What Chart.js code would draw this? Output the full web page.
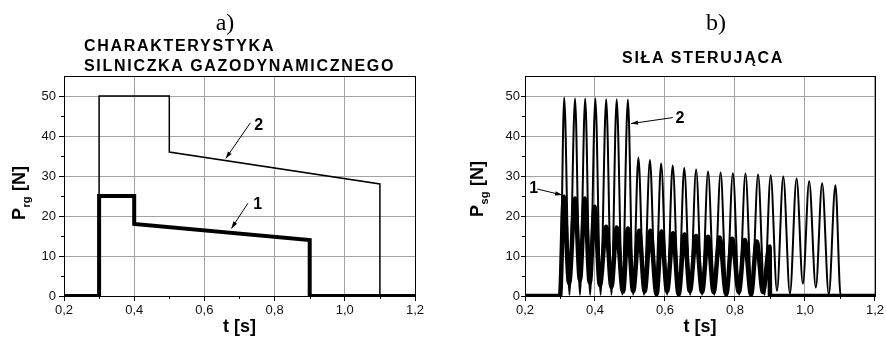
<!DOCTYPE html>
<html>
<head>
<meta charset="utf-8">
<script src="https://cdn.jsdelivr.net/npm/chart.js@4.4.1/dist/chart.umd.min.js"></script>
<style>
    html, body { margin: 0; padding: 0; background: #fff; }
    body { width: 886px; height: 343px; position: relative; overflow: hidden; }
    .panel { position: absolute; top: 0; width: 443px; height: 343px; }
    .tag { position: absolute; width: 200px; text-align: center; font-family: 'Liberation Serif', 'Times New Roman', serif; font-size: 24px; line-height: 24px; color: #000; }
    .head { position: absolute; font-family: 'Liberation Sans', Arial, sans-serif; font-weight: bold; font-size: 16px; line-height: 20px; letter-spacing: 1.7px; color: #000; white-space: nowrap; }
</style>
</head>
<body>
<div class="panel" style="left:0"><canvas id="chartA" width="443" height="343"></canvas></div>
<div class="panel" style="left:443px"><canvas id="chartB" width="443" height="343"></canvas></div>
<div class="tag" style="left:125px;top:10px">a)</div>
<div class="tag" style="left:616px;top:10px">b)</div>
<div class="head" style="left:84px;top:36px">CHARAKTERYSTYKA<br>SILNICZKA GAZODYNAMICZNEGO</div>
<div class="head" style="left:553px;top:48px;width:300px;text-align:center">SIŁA STERUJĄCA</div>

<script>
// axis ranges / ticks
const timeRange = [0.2, 1.2];
const forceRange = [0, 55];
const minorTimeTicks = [0.3, 0.5, 0.7, 0.9, 1.1];
const minorForceTicks = [5, 15, 25, 35, 45];

// a) engine characteristic, curve 1 (thick) and curve 2 (thin)
const timeA1 = [0.2, 0.3, 0.3, 0.4, 0.4, 0.9, 0.9, 1.2];
const forceA1 = [0, 0, 25, 25, 18, 14, 0, 0];
const timeA2 = [0.2, 0.3, 0.3, 0.5, 0.5, 1.1, 1.1, 1.2];
const forceA2 = [0, 0, 50, 50, 36, 28, 0, 0];

// b) control force, switching starts at 0.3 s
const startB = 0.3;
const stopB1 = 0.9;
const stopB2 = 1.102;

// curve 1 (thick) peaks and troughs
const peakT1 = [0.311, 0.343, 0.371, 0.399, 0.432, 0.462, 0.494, 0.526, 0.558, 0.590, 0.623, 0.656, 0.689, 0.723, 0.756, 0.792, 0.828, 0.862, 0.899];
const peakF1 = [24.8, 24.4, 24.4, 22.3, 17.3, 17.1, 16.9, 16.3, 16.3, 16.1, 15.7, 15.4, 15.0, 14.8, 14.6, 14.3, 14.0, 13.6, 12.4];
const troughT1 = [0.326, 0.357, 0.385, 0.414, 0.447, 0.480, 0.509, 0.542, 0.576, 0.606, 0.639, 0.671, 0.706, 0.739, 0.775, 0.811, 0.846, 0.880];
const troughF1 = [3.2, 4.0, 3.3, 2.7, 2.3, 1.1, 1.2, 1.2, 0.4, 1.2, 0.4, 1.2, 1.0, 1.0, 0.4, 1.0, 0.4, 1.0];

// curve 2 (thin) peaks and troughs
const peakT2 = [0.312, 0.343, 0.372, 0.401, 0.432, 0.462, 0.494, 0.524, 0.557, 0.589, 0.622, 0.655, 0.689, 0.723, 0.759, 0.794, 0.830, 0.866, 0.902, 0.938, 0.976, 1.012, 1.049, 1.087];
const peakF2 = [49.6, 49.4, 49.4, 49.4, 49.2, 49.2, 49.1, 34.6, 34.0, 33.1, 32.6, 32.0, 31.6, 31.1, 30.9, 30.7, 30.6, 30.4, 30.2, 29.9, 29.4, 28.7, 28.2, 27.7];
const troughT2 = [0.327, 0.357, 0.386, 0.416, 0.447, 0.478, 0.509, 0.540, 0.573, 0.606, 0.639, 0.672, 0.706, 0.741, 0.776, 0.812, 0.848, 0.884, 0.920, 0.957, 0.994, 1.031, 1.068];
const troughF2 = [0.3, 0.3, 0.3, 0.3, 0.3, 0.3, 0.3, 0.3, 0.3, 0.3, 0.3, 0.3, 0.3, 0.3, 0.3, 0.3, 0.3, 0.3, 1.3, 0.6, 3.1, 2.1, 0.4];

const family = "'Liberation Sans', Arial, sans-serif";

document.addEventListener('DOMContentLoaded', function () {
    const tLabel = v => Number(v).toFixed(1).replace('.', ',');

    const zip = (ts, fs) => ts.map((t, i) => ({ x: t, y: fs[i] }));

    // alternate peaks and troughs, framed by the zero level before and after
    const humps = (peakT, peakF, troughT, troughF, stop) => {
        const pts = [{ x: timeRange[0], y: 0 }, { x: startB, y: 0 }];
        peakT.forEach((t, i) => {
            pts.push({ x: t, y: peakF[i] });
            if (i < troughT.length) pts.push({ x: troughT[i], y: troughF[i] });
        });
        pts.push({ x: stop, y: 0 }, { x: timeRange[1], y: 0 });
        return pts;
    };

    // frame, minor ticks, y title with subscript, numbered arrows
    const decor = {
        id: 'decor',
        afterDraw(chart, args, opts) {
            const { ctx, chartArea: a, scales: { x, y } } = chart;
            ctx.save();
            ctx.strokeStyle = '#000';
            ctx.fillStyle = '#000';
            ctx.lineWidth = 1;
            ctx.strokeRect(Math.round(a.left) + 0.5, Math.round(a.top) + 0.5,
                Math.round(a.right - a.left), Math.round(a.bottom - a.top));

            ctx.beginPath();
            minorForceTicks.forEach(v => {
                const py = Math.round(y.getPixelForValue(v)) + 0.5;
                ctx.moveTo(a.left - 3, py);
                ctx.lineTo(a.left, py);
            });
            minorTimeTicks.forEach(v => {
                const px = Math.round(x.getPixelForValue(v)) + 0.5;
                ctx.moveTo(px, a.bottom);
                ctx.lineTo(px, a.bottom + 3);
            });
            ctx.stroke();

            // numbered arrows
            opts.notes.forEach(n => {
                const fx = x.getPixelForValue(n.from[0]), fy = y.getPixelForValue(n.from[1]);
                const tx = x.getPixelForValue(n.to[0]), ty = y.getPixelForValue(n.to[1]);
                ctx.beginPath();
                ctx.moveTo(fx, fy);
                ctx.lineTo(tx, ty);
                ctx.stroke();
                const ang = Math.atan2(ty - fy, tx - fx);
                const c = Math.cos(ang), s = Math.sin(ang);
                ctx.beginPath();
                ctx.moveTo(tx, ty);
                ctx.lineTo(tx - 7 * c + 2.2 * s, ty - 7 * s - 2.2 * c);
                ctx.lineTo(tx - 7 * c - 2.2 * s, ty - 7 * s + 2.2 * c);
                ctx.closePath();
                ctx.fill();
                ctx.font = 'bold 16px ' + family;
                ctx.textAlign = 'center';
                ctx.textBaseline = 'middle';
                ctx.fillText(n.text, x.getPixelForValue(n.at[0]), y.getPixelForValue(n.at[1]));
            });

            // rotated y title: P + subscript + [N]
            const yt = opts.yTitle;
            ctx.translate(yt.x, yt.y);
            ctx.rotate(-Math.PI / 2);
            ctx.textAlign = 'left';
            ctx.textBaseline = 'alphabetic';
            const big = 'bold 18px ' + family, small = 'bold 11px ' + family;
            ctx.font = big;
            const wP = ctx.measureText(yt.main).width;
            const wT = ctx.measureText(yt.tail).width;
            ctx.font = small;
            const wS = ctx.measureText(yt.sub).width;
            let cx = -(wP + wS + wT + 1) / 2;
            ctx.font = big;
            ctx.fillText(yt.main, cx, 0);
            cx += wP + 0.5;
            ctx.font = small;
            ctx.fillText(yt.sub, cx, 5);
            cx += wS + 0.5;
            ctx.font = big;
            ctx.fillText(yt.tail, cx, 0);
            ctx.restore();
        }
    };

    const makeOptions = o => ({
        responsive: false,
        animation: false,
        events: [],
        layout: { padding: { left: 0, right: o.padRight, top: 76, bottom: 0 } },
        elements: { point: { radius: 0 } },
        plugins: {
            legend: { display: false },
            tooltip: { enabled: false },
            decor: { notes: o.notes, yTitle: o.yTitle }
        },
        scales: {
            x: {
                type: 'linear',
                min: timeRange[0],
                max: timeRange[1],
                ticks: { stepSize: 0.2, padding: 2, color: '#111', maxRotation: 0, font: { family: family, size: 13 }, callback: tLabel },
                grid: { color: '#a3a3a3', tickColor: '#000', tickLength: 5 },
                border: { color: '#000' },
                title: { display: true, text: 't [s]', color: '#000', font: { family: family, size: 18, weight: 'bold' }, padding: { top: 0, bottom: 5 } },
                afterFit: s => { s.height = 47; }
            },
            y: {
                min: forceRange[0],
                max: forceRange[1],
                ticks: { stepSize: 10, includeBounds: false, padding: o.yPad, color: '#111', font: { family: family, size: 13 } },
                grid: { color: '#a3a3a3', tickColor: '#000', tickLength: o.yTick },
                border: { color: '#000' },
                afterFit: s => { s.width = o.yWidth; }
            }
        }
    });

    // a) characteristic of the gas-dynamic engine
    new Chart(document.getElementById('chartA').getContext('2d'), {
        type: 'line',
        data: {
            datasets: [
                { label: '1', data: zip(timeA1, forceA1), borderColor: '#000', borderWidth: 4, tension: 0, borderJoinStyle: 'miter' },
                { label: '2', data: zip(timeA2, forceA2), borderColor: '#000', borderWidth: 1.5, tension: 0 }
            ]
        },
        options: makeOptions({
            padRight: 28, yWidth: 64, yPad: 3, yTick: 5,
            yTitle: { x: 25, y: 193, main: 'P', sub: 'rg', tail: ' [N]' },
            notes: [
                { text: '2', at: [0.755, 42.5], from: [0.731, 43.3], to: [0.661, 34.4] },
                { text: '1', at: [0.752, 22.75], from: [0.724, 23.2], to: [0.677, 16.9] }
            ]
        }),
        plugins: [decor]
    });

    // b) control force
    new Chart(document.getElementById('chartB').getContext('2d'), {
        type: 'line',
        data: {
            datasets: [
                { label: '1', data: humps(peakT1, peakF1, troughT1, troughF1, stopB1), borderColor: '#000', borderWidth: 4.5, cubicInterpolationMode: 'monotone' },
                { label: '2', data: humps(peakT2, peakF2, troughT2, troughF2, stopB2), borderColor: '#000', borderWidth: 2, cubicInterpolationMode: 'monotone' }
            ]
        },
        options: makeOptions({
            padRight: 11, yWidth: 82, yPad: 1, yTick: 4,
            yTitle: { x: 40, y: 189, main: 'P', sub: 'sg', tail: ' [N]' },
            notes: [
                { text: '2', at: [0.643, 44.4], from: [0.622, 44.6], to: [0.503, 43.1] },
                { text: '1', at: [0.225, 26.8], from: [0.235, 26.75], to: [0.306, 25.25] }
            ]
        }),
        plugins: [decor]
    });
});
</script>
</body>
</html>
